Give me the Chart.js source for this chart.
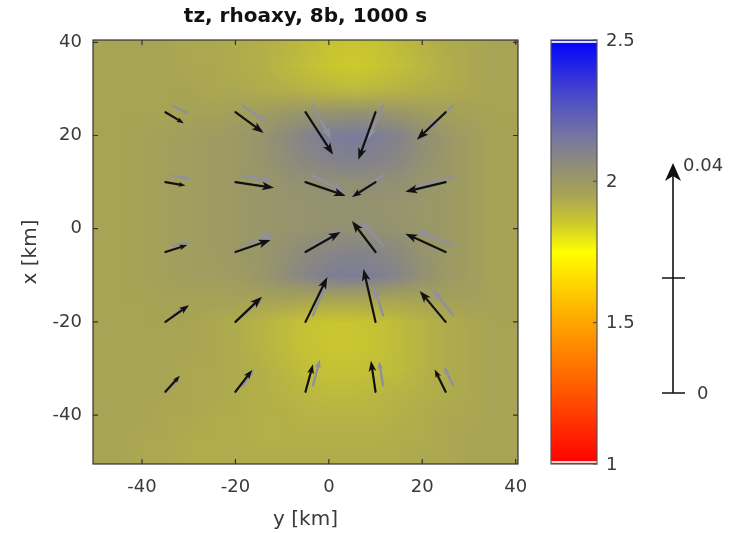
<!DOCTYPE html>
<html>
<head>
<meta charset="utf-8">
<title>tz, rhoaxy, 8b, 1000 s</title>
<script src="https://cdn.jsdelivr.net/npm/chart.js@4.4.1/dist/chart.umd.min.js"></script>
<style>
  html, body { margin: 0; padding: 0; background: #fff; }
  #wrap { position: relative; width: 742px; height: 533px; }
  #main { position: absolute; left: 0; top: 0; }
  #scalebar { position: absolute; left: 640px; top: 150px; }
</style>
</head>
<body>
<div id="wrap">
  <canvas id="main" width="742" height="533"></canvas>
  <canvas id="scalebar" width="102" height="260"></canvas>
</div>
<script>
/* ============================================================
   Dados — rho aparente (fundo) e vetores tz (Re preto, Im cinza)
   ============================================================ */

// eixo horizontal "y [km]" e vertical "x [km]" (linhas de cima para baixo)
const GRID_Y = [-50, -45, -40, -35, -30, -25, -20, -15, -10, -5, 0, 5, 10, 15, 20, 25, 30, 35, 40];
const GRID_X = [40, 35, 30, 25, 20, 15, 10, 5, 0, -5, -10, -15, -20, -25, -30, -35, -40, -45, -50];

const RHO = [
  [1.95,1.95,1.95,1.95,1.94,1.94,1.93,1.92,1.91,1.89,1.87,1.86,1.87,1.89,1.91,1.93,1.94,1.95,1.95],
  [1.95,1.95,1.95,1.95,1.94,1.94,1.93,1.92,1.90,1.88,1.86,1.85,1.86,1.88,1.90,1.92,1.94,1.95,1.95],
  [1.95,1.95,1.95,1.95,1.95,1.94,1.94,1.93,1.92,1.91,1.90,1.89,1.90,1.91,1.92,1.93,1.94,1.95,1.95],
  [1.95,1.95,1.95,1.95,1.96,1.96,1.97,1.98,2.00,2.02,2.03,2.04,2.03,2.01,1.99,1.97,1.96,1.95,1.95],
  [1.95,1.95,1.96,1.97,1.98,1.99,2.00,2.02,2.06,2.10,2.13,2.14,2.13,2.10,2.05,2.01,1.98,1.96,1.95],
  [1.95,1.95,1.96,1.97,1.98,1.99,2.00,2.02,2.05,2.08,2.10,2.11,2.10,2.08,2.04,2.01,1.98,1.96,1.95],
  [1.95,1.95,1.96,1.97,1.98,1.99,2.00,2.01,2.03,2.04,2.05,2.05,2.05,2.04,2.02,2.00,1.98,1.96,1.95],
  [1.95,1.95,1.96,1.97,1.98,1.99,2.00,2.01,2.02,2.03,2.03,2.03,2.03,2.02,2.01,2.00,1.98,1.96,1.95],
  [1.95,1.95,1.96,1.97,1.98,1.99,2.00,2.01,2.02,2.03,2.04,2.04,2.04,2.03,2.01,2.00,1.98,1.96,1.95],
  [1.95,1.95,1.96,1.97,1.98,1.99,2.00,2.01,2.04,2.07,2.09,2.10,2.09,2.07,2.03,2.00,1.98,1.96,1.95],
  [1.95,1.95,1.96,1.97,1.98,1.98,1.99,2.01,2.05,2.09,2.12,2.13,2.12,2.09,2.04,2.00,1.98,1.96,1.95],
  [1.95,1.95,1.95,1.96,1.96,1.96,1.96,1.96,1.96,1.95,1.95,1.95,1.95,1.95,1.96,1.97,1.97,1.96,1.95],
  [1.95,1.95,1.95,1.95,1.95,1.94,1.93,1.91,1.89,1.87,1.86,1.86,1.87,1.89,1.91,1.93,1.94,1.95,1.95],
  [1.95,1.95,1.95,1.95,1.95,1.94,1.93,1.91,1.89,1.87,1.86,1.86,1.87,1.89,1.91,1.93,1.94,1.95,1.95],
  [1.95,1.95,1.95,1.95,1.94,1.94,1.93,1.92,1.90,1.88,1.87,1.87,1.88,1.89,1.91,1.93,1.94,1.95,1.95],
  [1.95,1.95,1.95,1.95,1.94,1.94,1.93,1.92,1.91,1.90,1.89,1.89,1.90,1.91,1.92,1.93,1.94,1.95,1.95],
  [1.95,1.95,1.95,1.94,1.94,1.93,1.93,1.92,1.92,1.91,1.91,1.91,1.91,1.92,1.93,1.94,1.94,1.95,1.95],
  [1.95,1.95,1.94,1.94,1.93,1.93,1.93,1.92,1.92,1.92,1.92,1.92,1.92,1.93,1.93,1.94,1.95,1.95,1.95],
  [1.95,1.95,1.94,1.94,1.93,1.93,1.93,1.93,1.93,1.93,1.93,1.93,1.93,1.93,1.94,1.94,1.95,1.95,1.95]
];

// estações dos vetores
const ARROW_Y = [-35, -20, -5, 10, 25];
const ARROW_X = [25, 10, -5, -20, -35];

// parte real (preto): componentes horizontal (u) e vertical (v)
const RE_U = [
  [0.0032, 0.0049, 0.0048, -0.0030, -0.0050],
  [0.0035, 0.0067, 0.0070, -0.0041, -0.0070],
  [0.0038, 0.0061, 0.0061, -0.0041, -0.0070],
  [0.0041, 0.0046, 0.0038, -0.0021, -0.0045],
  [0.0025, 0.0029, 0.0013, -0.0008, -0.0019]
];
const RE_V = [
  [-0.0019, -0.0036, -0.0074, -0.0083, -0.0048],
  [-0.0006, -0.0010, -0.0024, -0.0026, -0.0017],
  [ 0.0012,  0.0021,  0.0035,  0.0054,  0.0032],
  [ 0.0029,  0.0044,  0.0078,  0.0092,  0.0054],
  [ 0.0028,  0.0038,  0.0048,  0.0054,  0.0039]
];

// parte imaginária (cinza)
const IM_U = [
  [0.0029, 0.0042, 0.0031, -0.0026, -0.0045],
  [0.0032, 0.0052, 0.0054, -0.0026, -0.0070],
  [0.0029, 0.0054, 0.0049, -0.0040, -0.0062],
  [0.0026, 0.0035, 0.0026, -0.0015, -0.0036],
  [0.0012, 0.0019, 0.0012, -0.0007, -0.0016]
];
const IM_V = [
  [-0.0015, -0.0029, -0.0058, -0.0058, -0.0042],
  [-0.0006, -0.0010, -0.0028, -0.0017, -0.0024],
  [ 0.0005,  0.0020,  0.0026,  0.0044,  0.0027],
  [ 0.0019,  0.0032,  0.0064,  0.0049,  0.0045],
  [ 0.0016,  0.0028,  0.0045,  0.0042,  0.0033]
];

const AXIS_TICKS = [-40, -20, 0, 20, 40];
const CB_TICKS = [1, 1.5, 2, 2.5];
const SCALE_TICKS = [0, 0.02, 0.04];
const SCALE_LABELS = ['0', '', '0.04'];

/* ---------- estilo ---------- */
const FONT = "'DejaVu Sans', sans-serif";
const INK = '#3a3a3a';
const KM_PER_UNIT = 1232;          // escala dos vetores (mesma da barra 0–0.04)
const IM_SHIFT = [1.6, 1.4];       // deslocamento dos vetores cinza (km)

const CMAP = [
  [1.00, [255, 0, 0]],
  [1.25, [255, 85, 0]],
  [1.50, [255, 165, 0]],
  [1.75, [255, 255, 0]],
  [1.85, [205, 202, 45]],
  [1.95, [168, 164, 85]],
  [2.05, [145, 143, 118]],
  [2.15, [120, 120, 160]],
  [2.30, [75, 75, 200]],
  [2.50, [0, 0, 255]]
];

function colorAt(v) {
  if (v <= CMAP[0][0]) return CMAP[0][1];
  for (let i = 1; i < CMAP.length; i++) {
    const [v1, c1] = CMAP[i];
    if (v <= v1) {
      const [v0, c0] = CMAP[i - 1];
      const t = (v - v0) / (v1 - v0);
      return c0.map((c, k) => Math.round(c + (c1[k] - c) * t));
    }
  }
  return CMAP[CMAP.length - 1][1];
}

function buildArrows(U, V, shift) {
  const pts = [];
  ARROW_X.forEach((xv, r) => ARROW_Y.forEach((yv, c) => {
    pts.push({ x: yv + shift[0], y: xv + shift[1], u: U[r][c], v: V[r][c] });
  }));
  return pts;
}

/* ---------- plugins ---------- */
const heatmapPlugin = {
  id: 'heatmap',
  beforeDatasetsDraw(chart) {
    const { ctx, chartArea: a, scales: { x, y } } = chart;
    const nx = GRID_Y.length, ny = GRID_X.length;
    const off = document.createElement('canvas');
    off.width = nx; off.height = ny;
    const octx = off.getContext('2d');
    const img = octx.createImageData(nx, ny);
    RHO.forEach((row, j) => row.forEach((val, i) => {
      const c = colorAt(val), k = (j * nx + i) * 4;
      img.data[k] = c[0]; img.data[k + 1] = c[1]; img.data[k + 2] = c[2]; img.data[k + 3] = 255;
    }));
    octx.putImageData(img, 0, 0);
    const half = (GRID_Y[1] - GRID_Y[0]) / 2;
    const x0 = x.getPixelForValue(GRID_Y[0] - half), x1 = x.getPixelForValue(GRID_Y[nx - 1] + half);
    const y0 = y.getPixelForValue(GRID_X[0] + half), y1 = y.getPixelForValue(GRID_X[ny - 1] - half);
    ctx.save();
    ctx.beginPath(); ctx.rect(a.left, a.top, a.right - a.left, a.bottom - a.top); ctx.clip();
    ctx.imageSmoothingEnabled = true;
    ctx.imageSmoothingQuality = 'low';
    ctx.drawImage(off, x0, y0, x1 - x0, y1 - y0);
    ctx.restore();
  }
};

function drawArrow(ctx, x0, y0, x1, y1, color, width) {
  const dx = x1 - x0, dy = y1 - y0, len = Math.hypot(dx, dy);
  if (len < 0.5) return;
  const ux = dx / len, uy = dy / len;
  const hl = Math.max(6, Math.min(12, len * 0.34)), hw = hl * 0.36;
  ctx.strokeStyle = color; ctx.fillStyle = color;
  ctx.lineWidth = width; ctx.lineCap = 'round';
  ctx.beginPath(); ctx.moveTo(x0, y0); ctx.lineTo(x1 - ux * hl * 0.6, y1 - uy * hl * 0.6); ctx.stroke();
  ctx.beginPath();
  ctx.moveTo(x1, y1);
  ctx.lineTo(x1 - ux * hl - uy * hw, y1 - uy * hl + ux * hw);
  ctx.lineTo(x1 - ux * hl * 0.75, y1 - uy * hl * 0.75);
  ctx.lineTo(x1 - ux * hl + uy * hw, y1 - uy * hl - ux * hw);
  ctx.closePath(); ctx.fill();
}

const quiverPlugin = {
  id: 'quiver',
  afterDatasetsDraw(chart) {
    const { ctx, chartArea: a, scales: { x, y } } = chart;
    ctx.save();
    ctx.beginPath(); ctx.rect(a.left, a.top, a.right - a.left, a.bottom - a.top); ctx.clip();
    chart.data.datasets.forEach(ds => {
      ds.data.forEach(p => {
        drawArrow(ctx,
          x.getPixelForValue(p.x), y.getPixelForValue(p.y),
          x.getPixelForValue(p.x + p.u * KM_PER_UNIT), y.getPixelForValue(p.y + p.v * KM_PER_UNIT),
          ds.borderColor, ds.borderWidth);
      });
    });
    ctx.restore();
  }
};

const framePlugin = {
  id: 'frame',
  afterDraw(chart) {
    const { ctx, chartArea: a, scales: { x, y } } = chart;
    const tl = 5;
    ctx.save();
    ctx.strokeStyle = '#333'; ctx.lineWidth = 1.2;
    ctx.strokeRect(a.left, a.top, a.right - a.left, a.bottom - a.top);
    ctx.beginPath();
    AXIS_TICKS.forEach(t => {
      const px = x.getPixelForValue(t), py = y.getPixelForValue(t);
      ctx.moveTo(px, a.bottom); ctx.lineTo(px, a.bottom - tl);
      ctx.moveTo(px, a.top); ctx.lineTo(px, a.top + tl);
      ctx.moveTo(a.left, py); ctx.lineTo(a.left + tl, py);
      ctx.moveTo(a.right, py); ctx.lineTo(a.right - tl, py);
    });
    ctx.stroke();
    ctx.restore();
  }
};

const colorbarPlugin = {
  id: 'colorbar',
  afterDraw(chart) {
    const { ctx, scales: { cb } } = chart;
    const left = 551, right = 597;
    const top = cb.getPixelForValue(cb.max), bottom = cb.getPixelForValue(cb.min);
    ctx.save();
    const g = ctx.createLinearGradient(0, bottom, 0, top);
    CMAP.forEach(([v, c]) => g.addColorStop((v - cb.min) / (cb.max - cb.min), `rgb(${c.join(',')})`));
    ctx.fillStyle = g;
    ctx.fillRect(left, top, right - left, bottom - top);
    ctx.fillStyle = '#d8dcff'; ctx.fillRect(left, top + 1, right - left, 2);
    ctx.fillStyle = '#ffd0d0'; ctx.fillRect(left, bottom - 3, right - left, 2);
    ctx.strokeStyle = '#555'; ctx.lineWidth = 1.2;
    ctx.strokeRect(left, top, right - left, bottom - top);
    ctx.beginPath();
    CB_TICKS.forEach(t => {
      const py = cb.getPixelForValue(t);
      ctx.moveTo(right, py); ctx.lineTo(right - 4, py);
    });
    ctx.stroke();
    ctx.fillStyle = INK;
    ctx.font = `18px ${FONT}`;
    ctx.textAlign = 'left'; ctx.textBaseline = 'middle';
    CB_TICKS.forEach(t => ctx.fillText(String(t), right + 9, cb.getPixelForValue(t) + 1));
    ctx.restore();
  }
};

/* ---------- gráfico principal ---------- */
Chart.defaults.font.family = FONT;
Chart.defaults.color = INK;

new Chart(document.getElementById('main'), {
  type: 'scatter',
  data: {
    datasets: [
      { label: 'Im', data: buildArrows(IM_U, IM_V, IM_SHIFT), borderColor: '#90909f', borderWidth: 2.4, pointRadius: 0 },
      { label: 'Re', data: buildArrows(RE_U, RE_V, [0, 0]), borderColor: '#111111', borderWidth: 2.2, pointRadius: 0 }
    ]
  },
  options: {
    responsive: false,
    animation: false,
    events: [],
    layout: { padding: { left: 0, right: 224, top: 0, bottom: 0 } },
    plugins: {
      legend: { display: false },
      tooltip: { enabled: false },
      title: {
        display: true, text: 'tz, rhoaxy, 8b, 1000 s', fullSize: false,
        color: '#111', font: { size: 20, weight: 'bold' }, padding: { top: 5, bottom: 11 }
      }
    },
    scales: {
      x: {
        type: 'linear', min: -50.5, max: 40.5,
        afterBuildTicks: s => { s.ticks = AXIS_TICKS.map(v => ({ value: v })); },
        afterFit: s => { s.height = 69; },
        grid: { display: false, drawTicks: false }, border: { display: false },
        ticks: { font: { size: 18 }, padding: 13, maxRotation: 0 },
        title: { display: true, text: 'y [km]', font: { size: 20 }, padding: { top: 0, bottom: 1 } }
      },
      y: {
        type: 'linear', min: -50.5, max: 40.5,
        afterBuildTicks: s => { s.ticks = AXIS_TICKS.map(v => ({ value: v })); },
        afterFit: s => { s.width = 93; },
        grid: { display: false, drawTicks: false }, border: { display: false },
        ticks: { font: { size: 18 }, padding: 11 },
        title: { display: true, text: 'x [km]', font: { size: 20 }, padding: { top: 19, bottom: 0 } }
      },
      cb: { type: 'linear', axis: 'y', position: 'right', display: false, min: 1, max: 2.5 }
    }
  },
  plugins: [heatmapPlugin, quiverPlugin, framePlugin, colorbarPlugin]
});

/* ---------- barra de escala dos vetores ---------- */
const scaleArrowPlugin = {
  id: 'scaleArrow',
  afterDraw(chart) {
    const { ctx, chartArea: a, scales: { y } } = chart;
    const cx = a.left + 33;
    const y0 = y.getPixelForValue(SCALE_TICKS[0]);
    const yTop = y.getPixelForValue(SCALE_TICKS[SCALE_TICKS.length - 1]);
    ctx.save();
    ctx.strokeStyle = '#111'; ctx.fillStyle = '#111'; ctx.lineWidth = 1.6;
    ctx.beginPath(); ctx.moveTo(cx, y0); ctx.lineTo(cx, yTop + 8); ctx.stroke();
    ctx.beginPath();
    ctx.moveTo(cx, yTop);
    ctx.lineTo(cx - 8, yTop + 18);
    ctx.lineTo(cx, yTop + 13);
    ctx.lineTo(cx + 8, yTop + 18);
    ctx.closePath(); ctx.fill();
    ctx.beginPath();
    SCALE_TICKS.slice(0, -1).forEach(t => {
      const py = y.getPixelForValue(t);
      ctx.moveTo(cx - 11, py); ctx.lineTo(cx + 12, py);
    });
    ctx.stroke();
    ctx.fillStyle = INK;
    ctx.font = `18px ${FONT}`;
    ctx.textAlign = 'left'; ctx.textBaseline = 'middle';
    SCALE_TICKS.forEach((t, i) => {
      if (!SCALE_LABELS[i]) return;
      const last = i === SCALE_TICKS.length - 1;
      ctx.fillText(SCALE_LABELS[i], last ? cx + 10 : cx + 24, y.getPixelForValue(t) + (last ? 3 : 1));
    });
    ctx.restore();
  }
};

new Chart(document.getElementById('scalebar'), {
  type: 'scatter',
  data: { datasets: [{ data: [], pointRadius: 0 }] },
  options: {
    responsive: false,
    animation: false,
    events: [],
    layout: { padding: { left: 0, right: 0, top: 13, bottom: 17 } },
    plugins: { legend: { display: false }, tooltip: { enabled: false } },
    scales: {
      x: { display: false, min: 0, max: 1 },
      y: { display: false, min: SCALE_TICKS[0], max: SCALE_TICKS[SCALE_TICKS.length - 1] }
    }
  },
  plugins: [scaleArrowPlugin]
});
</script>
</body>
</html>
